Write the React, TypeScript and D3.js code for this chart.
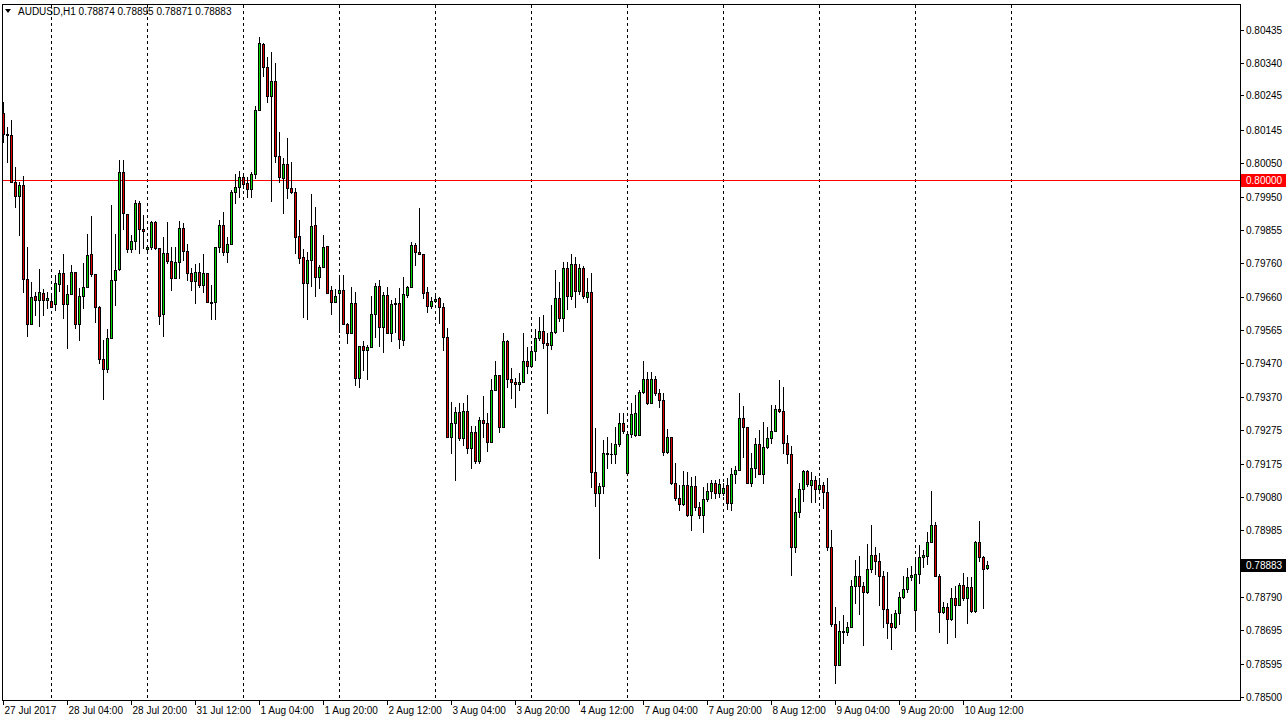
import React, { useRef, useEffect } from 'react';
import * as d3 from 'd3';

// AUDUSD H1, 27 Jul 2017 12:00 .. 10 Aug 2017 18:00
const opens = [
  0.80193, 0.80132, 0.80130, 0.79993, 0.79953, 0.79985, 0.79712, 0.79581, 0.79662, 0.79651, 0.79671, 0.79651,
  0.79648, 0.79639, 0.79697, 0.79729, 0.79639, 0.79670, 0.79732, 0.79581, 0.79662, 0.79689, 0.79784, 0.79726,
  0.79632, 0.79480, 0.79451, 0.79541, 0.79710, 0.79742, 0.80024, 0.79901, 0.79801, 0.79823, 0.79932, 0.79857,
  0.79800, 0.79805, 0.79877, 0.79802, 0.79610, 0.79787, 0.79766, 0.79715, 0.79761, 0.79860, 0.79794, 0.79729,
  0.79708, 0.79732, 0.79695, 0.79729, 0.79647, 0.79647, 0.79805, 0.79869, 0.79790, 0.79813, 0.79966, 0.79979,
  0.80008, 0.79990, 0.79973, 0.80017, 0.80203, 0.80393, 0.80327, 0.80244, 0.80287, 0.80070, 0.80007, 0.80046,
  0.79976, 0.79966, 0.79837, 0.79776, 0.79700, 0.79768, 0.79869, 0.79718, 0.79747, 0.79808, 0.79680, 0.79646,
  0.79673, 0.79681, 0.79582, 0.79555, 0.79644, 0.79425, 0.79518, 0.79507, 0.79515, 0.79610, 0.79692, 0.79574,
  0.79666, 0.79557, 0.79643, 0.79642, 0.79536, 0.79666, 0.79689, 0.79811, 0.79792, 0.79785, 0.79674, 0.79635,
  0.79648, 0.79657, 0.79631, 0.79544, 0.79253, 0.79296, 0.79326, 0.79252, 0.79330, 0.79223, 0.79268, 0.79186,
  0.79304, 0.79294, 0.79241, 0.79391, 0.79434, 0.79282, 0.79533, 0.79422, 0.79415, 0.79407, 0.79414, 0.79475,
  0.79460, 0.79504, 0.79541, 0.79562, 0.79528, 0.79522, 0.79560, 0.79657, 0.79600, 0.79744, 0.79664, 0.79755,
  0.79679, 0.79744, 0.79661, 0.79676, 0.79154, 0.79091, 0.79113, 0.79207, 0.79204, 0.79205, 0.79234, 0.79294,
  0.79151, 0.79262, 0.79260, 0.79260, 0.79384, 0.79422, 0.79354, 0.79422, 0.79381, 0.79362, 0.79212, 0.79253,
  0.79120, 0.79076, 0.79059, 0.79115, 0.79028, 0.79112, 0.79050, 0.79028, 0.79074, 0.79098, 0.79120, 0.79093,
  0.79093, 0.79115, 0.79064, 0.79147, 0.79159, 0.79309, 0.79282, 0.79120, 0.79163, 0.79234, 0.79147, 0.79224,
  0.79251, 0.79272, 0.79335, 0.79331, 0.79236, 0.79205, 0.78935, 0.79036, 0.79103, 0.79156, 0.79115, 0.79130,
  0.79103, 0.79115, 0.79096, 0.78936, 0.78711, 0.78593, 0.78692, 0.78689, 0.78704, 0.78822, 0.78852, 0.78823,
  0.78805, 0.78871, 0.78912, 0.78895, 0.78852, 0.78754, 0.78714, 0.78702, 0.78743, 0.78789, 0.78813, 0.78847,
  0.78752, 0.78856, 0.78907, 0.78910, 0.78951, 0.78999, 0.78852, 0.78748, 0.78760, 0.78725, 0.78786, 0.78767,
  0.78825, 0.78786, 0.78818, 0.78750, 0.78951, 0.78907, 0.78874,
];
const highs = [
  0.80227, 0.80154, 0.80174, 0.80038, 0.79995, 0.80011, 0.79805, 0.79703, 0.79676, 0.79742, 0.79683, 0.79675,
  0.79662, 0.79724, 0.79739, 0.79784, 0.79695, 0.79753, 0.79732, 0.79687, 0.79758, 0.79843, 0.79895, 0.79727,
  0.79634, 0.79536, 0.79567, 0.79927, 0.79842, 0.80058, 0.80058, 0.79901, 0.79840, 0.79942, 0.79940, 0.79898,
  0.79808, 0.79882, 0.79881, 0.79802, 0.79835, 0.79879, 0.79806, 0.79806, 0.79882, 0.79874, 0.79813, 0.79744,
  0.79756, 0.79758, 0.79785, 0.79729, 0.79695, 0.79805, 0.79884, 0.79908, 0.79835, 0.79971, 0.80017, 0.80026,
  0.80021, 0.80009, 0.80024, 0.80214, 0.80416, 0.80396, 0.80357, 0.80372, 0.80338, 0.80140, 0.80063, 0.80123,
  0.80053, 0.79976, 0.79884, 0.79800, 0.79792, 0.79959, 0.79922, 0.79753, 0.79840, 0.79808, 0.79692, 0.79683,
  0.79715, 0.79724, 0.79584, 0.79689, 0.79676, 0.79518, 0.79533, 0.79520, 0.79663, 0.79700, 0.79710, 0.79676,
  0.79689, 0.79652, 0.79657, 0.79686, 0.79718, 0.79692, 0.79821, 0.79818, 0.79918, 0.79785, 0.79690, 0.79661,
  0.79666, 0.79661, 0.79642, 0.79570, 0.79357, 0.79340, 0.79352, 0.79352, 0.79376, 0.79286, 0.79286, 0.79313,
  0.79373, 0.79325, 0.79422, 0.79475, 0.79434, 0.79557, 0.79536, 0.79454, 0.79425, 0.79439, 0.79555, 0.79516,
  0.79518, 0.79568, 0.79603, 0.79608, 0.79557, 0.79637, 0.79739, 0.79705, 0.79763, 0.79763, 0.79785, 0.79776,
  0.79755, 0.79750, 0.79715, 0.79731, 0.79280, 0.79120, 0.79246, 0.79253, 0.79236, 0.79284, 0.79325, 0.79323,
  0.79262, 0.79352, 0.79376, 0.79391, 0.79475, 0.79444, 0.79444, 0.79431, 0.79393, 0.79381, 0.79277, 0.79253,
  0.79180, 0.79115, 0.79157, 0.79154, 0.79139, 0.79141, 0.79067, 0.79110, 0.79120, 0.79130, 0.79130, 0.79132,
  0.79120, 0.79135, 0.79163, 0.79170, 0.79383, 0.79344, 0.79282, 0.79209, 0.79251, 0.79275, 0.79299, 0.79284,
  0.79347, 0.79347, 0.79420, 0.79400, 0.79260, 0.79228, 0.79076, 0.79122, 0.79159, 0.79159, 0.79154, 0.79141,
  0.79135, 0.79125, 0.79135, 0.78985, 0.78762, 0.78721, 0.78738, 0.78718, 0.78839, 0.78897, 0.78909, 0.78834,
  0.78944, 0.78999, 0.78936, 0.78917, 0.78866, 0.78864, 0.78740, 0.78752, 0.78805, 0.78852, 0.78873, 0.78880,
  0.78897, 0.78941, 0.78926, 0.78980, 0.79098, 0.79009, 0.78856, 0.78777, 0.78774, 0.78815, 0.78822, 0.78832,
  0.78859, 0.78847, 0.78847, 0.78953, 0.79011, 0.78909, 0.78895,
];
const lows = [
  0.80111, 0.80053, 0.79993, 0.79922, 0.79840, 0.79676, 0.79548, 0.79581, 0.79608, 0.79577, 0.79608, 0.79628,
  0.79632, 0.79624, 0.79678, 0.79600, 0.79513, 0.79670, 0.79571, 0.79536, 0.79629, 0.79689, 0.79721, 0.79589,
  0.79470, 0.79364, 0.79444, 0.79541, 0.79637, 0.79740, 0.79858, 0.79792, 0.79792, 0.79799, 0.79787, 0.79802,
  0.79797, 0.79799, 0.79799, 0.79582, 0.79547, 0.79760, 0.79681, 0.79715, 0.79715, 0.79768, 0.79710, 0.79681,
  0.79642, 0.79690, 0.79676, 0.79647, 0.79596, 0.79598, 0.79792, 0.79782, 0.79763, 0.79813, 0.79934, 0.79951,
  0.79977, 0.79951, 0.79951, 0.80005, 0.80203, 0.80302, 0.80227, 0.79940, 0.80053, 0.79995, 0.79905, 0.79947,
  0.79961, 0.79789, 0.79760, 0.79603, 0.79596, 0.79692, 0.79664, 0.79687, 0.79747, 0.79673, 0.79610, 0.79645,
  0.79560, 0.79581, 0.79526, 0.79555, 0.79405, 0.79400, 0.79449, 0.79423, 0.79515, 0.79545, 0.79519, 0.79502,
  0.79555, 0.79534, 0.79558, 0.79512, 0.79521, 0.79661, 0.79689, 0.79753, 0.79784, 0.79658, 0.79618, 0.79628,
  0.79646, 0.79584, 0.79507, 0.79253, 0.79209, 0.79130, 0.79246, 0.79231, 0.79209, 0.79163, 0.79178, 0.79178,
  0.79255, 0.79215, 0.79241, 0.79391, 0.79270, 0.79282, 0.79398, 0.79367, 0.79340, 0.79391, 0.79414, 0.79441,
  0.79460, 0.79478, 0.79536, 0.79512, 0.79325, 0.79509, 0.79557, 0.79591, 0.79563, 0.79625, 0.79654, 0.79632,
  0.79668, 0.79657, 0.79647, 0.79110, 0.79054, 0.78902, 0.79091, 0.79163, 0.79178, 0.79178, 0.79229, 0.79265,
  0.79151, 0.79255, 0.79257, 0.79260, 0.79381, 0.79350, 0.79352, 0.79376, 0.79342, 0.79202, 0.79207, 0.79118,
  0.79072, 0.79043, 0.79057, 0.79025, 0.78985, 0.79043, 0.79019, 0.78980, 0.79069, 0.79076, 0.79076, 0.79079,
  0.79086, 0.79045, 0.79043, 0.79122, 0.79159, 0.79197, 0.79120, 0.79112, 0.79137, 0.79147, 0.79122, 0.79222,
  0.79238, 0.79272, 0.79327, 0.79207, 0.79180, 0.78854, 0.78922, 0.79023, 0.79070, 0.79113, 0.79067, 0.79067,
  0.79100, 0.79047, 0.78926, 0.78706, 0.78540, 0.78593, 0.78656, 0.78680, 0.78704, 0.78772, 0.78741, 0.78651,
  0.78803, 0.78864, 0.78857, 0.78767, 0.78703, 0.78670, 0.78638, 0.78700, 0.78712, 0.78787, 0.78805, 0.78839,
  0.78694, 0.78832, 0.78876, 0.78886, 0.78950, 0.78852, 0.78689, 0.78744, 0.78656, 0.78723, 0.78675, 0.78767,
  0.78781, 0.78714, 0.78747, 0.78748, 0.78895, 0.78758, 0.78871,
];
const closes = [
  0.80132, 0.80130, 0.79993, 0.79953, 0.79985, 0.79712, 0.79581, 0.79660, 0.79653, 0.79674, 0.79651, 0.79658,
  0.79632, 0.79700, 0.79729, 0.79639, 0.79670, 0.79732, 0.79581, 0.79662, 0.79689, 0.79781, 0.79726, 0.79631,
  0.79480, 0.79451, 0.79542, 0.79710, 0.79739, 0.80024, 0.79903, 0.79799, 0.79823, 0.79932, 0.79857, 0.79853,
  0.79805, 0.79877, 0.79802, 0.79606, 0.79787, 0.79766, 0.79715, 0.79761, 0.79860, 0.79795, 0.79729, 0.79708,
  0.79732, 0.79695, 0.79729, 0.79647, 0.79644, 0.79805, 0.79869, 0.79792, 0.79813, 0.79966, 0.79979, 0.80008,
  0.79988, 0.79973, 0.80016, 0.80203, 0.80396, 0.80327, 0.80244, 0.80287, 0.80070, 0.80009, 0.80046, 0.79976,
  0.79966, 0.79835, 0.79774, 0.79700, 0.79768, 0.79866, 0.79718, 0.79748, 0.79806, 0.79673, 0.79645, 0.79663,
  0.79681, 0.79581, 0.79555, 0.79644, 0.79425, 0.79518, 0.79507, 0.79515, 0.79610, 0.79692, 0.79574, 0.79666,
  0.79557, 0.79640, 0.79639, 0.79538, 0.79668, 0.79689, 0.79811, 0.79792, 0.79784, 0.79673, 0.79635, 0.79649,
  0.79655, 0.79632, 0.79545, 0.79253, 0.79296, 0.79326, 0.79251, 0.79330, 0.79222, 0.79268, 0.79186, 0.79304,
  0.79294, 0.79241, 0.79391, 0.79434, 0.79282, 0.79533, 0.79422, 0.79415, 0.79407, 0.79414, 0.79475, 0.79460,
  0.79504, 0.79541, 0.79562, 0.79528, 0.79522, 0.79560, 0.79657, 0.79600, 0.79744, 0.79664, 0.79755, 0.79679,
  0.79744, 0.79663, 0.79676, 0.79154, 0.79091, 0.79113, 0.79207, 0.79204, 0.79205, 0.79234, 0.79294, 0.79272,
  0.79262, 0.79320, 0.79323, 0.79384, 0.79422, 0.79354, 0.79422, 0.79381, 0.79362, 0.79212, 0.79253, 0.79120,
  0.79076, 0.79059, 0.79115, 0.79028, 0.79112, 0.79050, 0.79028, 0.79074, 0.79098, 0.79120, 0.79093, 0.79117,
  0.79107, 0.79064, 0.79147, 0.79159, 0.79309, 0.79282, 0.79120, 0.79163, 0.79234, 0.79147, 0.79224, 0.79251,
  0.79272, 0.79335, 0.79331, 0.79236, 0.79205, 0.78935, 0.79036, 0.79103, 0.79156, 0.79117, 0.79130, 0.79103,
  0.79115, 0.79096, 0.78936, 0.78711, 0.78593, 0.78692, 0.78689, 0.78704, 0.78822, 0.78852, 0.78823, 0.78805,
  0.78871, 0.78912, 0.78895, 0.78852, 0.78754, 0.78714, 0.78702, 0.78743, 0.78789, 0.78813, 0.78847, 0.78854,
  0.78856, 0.78907, 0.78912, 0.78951, 0.78999, 0.78852, 0.78748, 0.78760, 0.78725, 0.78786, 0.78767, 0.78825,
  0.78786, 0.78818, 0.78750, 0.78951, 0.78907, 0.78870, 0.78883,
];

const priceTicks = [
  0.80435, 0.8034, 0.80245, 0.80145, 0.8005, 0.7995, 0.79855, 0.7976, 0.7966, 0.79565,
  0.7947, 0.7937, 0.79275, 0.79175, 0.7908, 0.78985, 0.7879, 0.78695, 0.78595, 0.785,
];
const levelLine = 0.8;
const symbol = 'AUDUSD,H1';
const firstBar = new Date(2017, 6, 27, 12);

const W = 1286;
const H = 723;
const plotLeft = 2;
const plotRight = 1240;
const plotTop = 4;
const plotBottom = 700;

const BULL = '#00d800';
const BEAR = '#e00000';

// bar open times, hourly, weekends skipped
function barTimes(n: number): Date[] {
  const out: Date[] = [];
  let t = new Date(firstBar);
  while (out.length < n) {
    const d = t.getDay();
    if (d !== 0 && d !== 6) out.push(new Date(t));
    t = d3.timeHour.offset(t, 1);
  }
  return out;
}

const App: React.FC = () => {
  const svgRef = useRef<SVGSVGElement>(null);

  useEffect(() => {
    if (!svgRef.current) return;
    const svg = d3.select(svgRef.current);
    svg.selectAll('*').remove();

    const n = closes.length;
    const times = barTimes(n + 12);

    const x = d3.scaleLinear().domain([0, n - 1]).range([3, 3 + 4 * (n - 1)]);
    const y = d3.scaleLinear().domain([0.785, 0.80435]).range([697, 30]);
    const font = '"Liberation Sans", Arial, sans-serif';

    svg.append('rect').attr('width', W).attr('height', H).attr('fill', '#fff');

    // frame
    svg.append('rect')
      .attr('x', plotLeft + 0.5).attr('y', plotTop + 0.5)
      .attr('width', plotRight - plotLeft).attr('height', plotBottom - plotTop)
      .attr('fill', 'none').attr('stroke', '#000');

    // day separators
    times.forEach((t, i) => {
      if (t.getHours() !== 0) return;
      const px = Math.round(x(i)) + 0.5;
      svg.append('line')
        .attr('x1', px).attr('x2', px)
        .attr('y1', plotTop + 1).attr('y2', plotBottom)
        .attr('stroke', '#000').attr('stroke-dasharray', '3,3');
    });

    // 0.80000 level
    const ly = Math.round(y(levelLine)) + 0.5;
    svg.append('line')
      .attr('x1', plotLeft + 1).attr('x2', plotRight)
      .attr('y1', ly).attr('y2', ly)
      .attr('stroke', '#ff0000');

    // candles
    const g = svg.append('g').attr('shape-rendering', 'crispEdges');
    for (let i = 0; i < n; i++) {
      const cx = Math.round(x(i));
      const o = opens[i], c = closes[i];
      const yH = Math.round(y(highs[i]));
      const yL = Math.round(y(lows[i]));
      const yT = Math.round(y(Math.max(o, c)));
      const yB = Math.round(y(Math.min(o, c)));
      g.append('line')
        .attr('x1', cx + 0.5).attr('x2', cx + 0.5)
        .attr('y1', yH).attr('y2', yL + 1)
        .attr('stroke', '#000');
      if (yB - yT < 1) {
        g.append('line')
          .attr('x1', cx - 1).attr('x2', cx + 2)
          .attr('y1', yT + 0.5).attr('y2', yT + 0.5)
          .attr('stroke', '#000');
      } else {
        g.append('rect')
          .attr('x', cx - 0.5).attr('y', yT + 0.5)
          .attr('width', 2).attr('height', yB - yT)
          .attr('fill', c >= o ? BULL : BEAR)
          .attr('stroke', '#000');
      }
    }

    // price scale
    priceTicks.forEach((p) => {
      const py = Math.round(y(p)) + 0.5;
      svg.append('line')
        .attr('x1', plotRight).attr('x2', plotRight + 4)
        .attr('y1', py).attr('y2', py).attr('stroke', '#000');
      svg.append('text')
        .attr('x', plotRight + 6).attr('y', py + 3.5)
        .attr('font-family', font).attr('font-size', 10)
        .text(d3.format('.5f')(p));
    });

    const priceTag = (p: number, bg: string) => {
      const py = Math.round(y(p));
      svg.append('rect')
        .attr('x', plotRight + 1).attr('y', py - 6)
        .attr('width', W - plotRight - 1).attr('height', 13)
        .attr('fill', bg);
      svg.append('text')
        .attr('x', plotRight + 6).attr('y', py + 4)
        .attr('font-family', font).attr('font-size', 10)
        .attr('fill', '#fff')
        .text(d3.format('.5f')(p));
    };
    priceTag(levelLine, '#ff0000');
    priceTag(closes[n - 1], '#000');

    // time scale
    const fmt = d3.timeFormat('%-d %b %H:%M');
    const labelIdx = [0, ...d3.range(16, n, 16)];
    labelIdx.forEach((i) => {
      const px = Math.round(x(i)) + 0.5;
      svg.append('line')
        .attr('x1', px).attr('x2', px)
        .attr('y1', plotBottom).attr('y2', plotBottom + 5)
        .attr('stroke', '#000');
      svg.append('text')
        .attr('x', px + 1).attr('y', plotBottom + 14)
        .attr('font-family', font).attr('font-size', 10)
        .text(i === 0 ? d3.timeFormat('%-d %b %Y')(times[i]) : fmt(times[i]));
    });

    // header
    const last = n - 1;
    svg.append('path')
      .attr('d', 'M5,9 L11,9 L8,13 Z').attr('fill', '#000');
    svg.append('text')
      .attr('x', 18).attr('y', 15)
      .attr('font-family', font).attr('font-size', 10)
      .text(`${symbol}  ${[opens[last], highs[last], lows[last], closes[last]].map(d3.format('.5f')).join(' ')}`);
  }, []);

  return (
    <svg
      ref={svgRef}
      width={W}
      height={H}
      style={{ position: 'absolute', left: 0, top: 0, display: 'block' }}
    />
  );
};

export default App;
